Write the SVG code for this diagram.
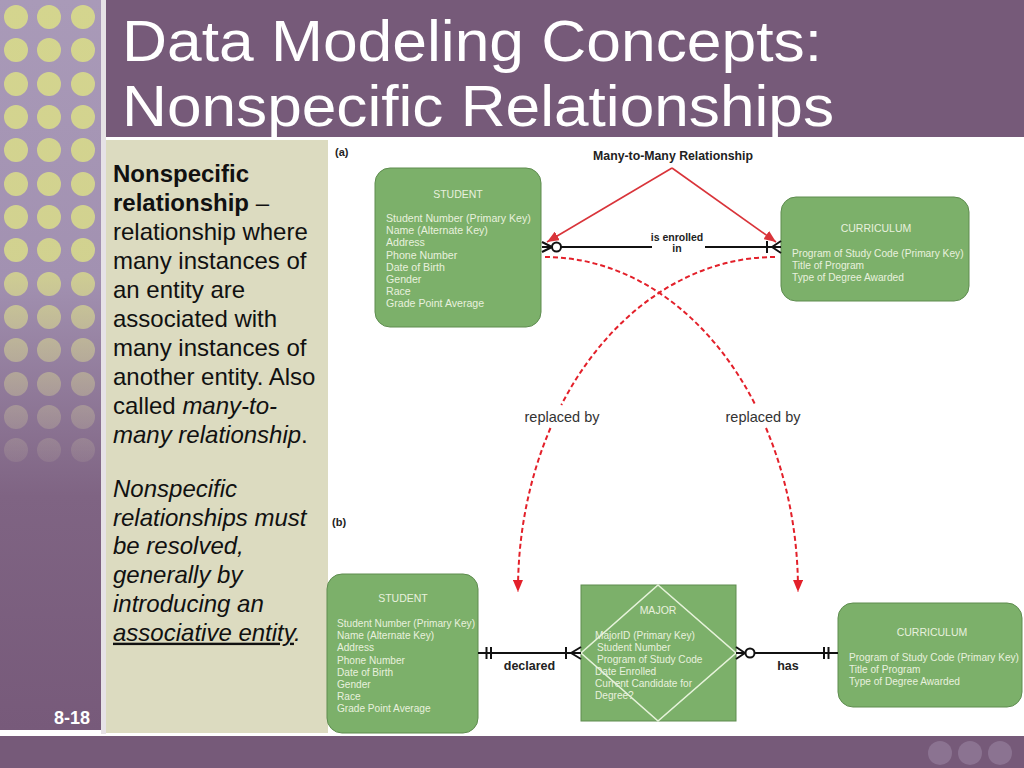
<svg xmlns="http://www.w3.org/2000/svg" width="1024" height="768" viewBox="0 0 1024 768">
<defs>
  <linearGradient id="stripGrad" gradientUnits="userSpaceOnUse" x1="0" y1="0" x2="0" y2="730">
    <stop offset="0" stop-color="#A99AB8"/>
    <stop offset="0.38" stop-color="#A291B1"/>
    <stop offset="0.68" stop-color="#7F6483"/>
    <stop offset="1" stop-color="#775A7A"/>
  </linearGradient>
  <linearGradient id="dotGrad" gradientUnits="userSpaceOnUse" x1="0" y1="0" x2="0" y2="470">
    <stop offset="0" stop-color="#D4D58E" stop-opacity="1"/>
    <stop offset="0.55" stop-color="#D4D58E" stop-opacity="0.95"/>
    <stop offset="0.8" stop-color="#CFCB95" stop-opacity="0.5"/>
    <stop offset="1" stop-color="#C8BDA8" stop-opacity="0.12"/>
  </linearGradient>
  <marker id="redArrow" viewBox="0 0 12 10" refX="12" refY="5" markerWidth="12" markerHeight="10" markerUnits="userSpaceOnUse" orient="auto">
    <path d="M0,0 L12,5 L0,10 z" fill="#D9343A"/>
  </marker>
  <marker id="dashArrow" viewBox="0 0 12 10" refX="12" refY="5" markerWidth="13" markerHeight="10" markerUnits="userSpaceOnUse" orient="auto">
    <path d="M0,0 L12,5 L0,10 z" fill="#E3202A"/>
  </marker>
  <style>
    .box { fill: #7CB06A; stroke: #5E8C4F; stroke-width: 1; }
    .etitle { font-family: "Liberation Sans", Arial, sans-serif; font-size: 10.5px; fill: #E8F0DE; text-anchor: middle; }
    .attr { font-family: "Liberation Sans", Arial, sans-serif; font-size: 10.6px; fill: #E8F0DE; }
    .attrc { font-family: "Liberation Sans", Arial, sans-serif; font-size: 10.2px; fill: #E8F0DE; }
    .attrb { font-family: "Liberation Sans", Arial, sans-serif; font-size: 10.1px; fill: #E8F0DE; }
    .rel { stroke: #111; stroke-width: 2; fill: none; }
    .relfill { stroke: #111; stroke-width: 2; fill: #FFFFFF; }
    .rlabel { font-family: "Liberation Sans", Arial, sans-serif; font-weight: bold; font-size: 12.5px; fill: #222; text-anchor: middle; }
    .redline { stroke: #D9343A; stroke-width: 1.6; fill: none; }
    .dash { stroke: #E3202A; stroke-width: 2; fill: none; stroke-dasharray: 5 3; }
    .repl { font-family: "Liberation Sans", Arial, sans-serif; font-size: 14.5px; fill: #333; text-anchor: middle; }
    .note { font-family: "Liberation Sans", Arial, sans-serif; font-size: 24px; fill: #111; }
    .dot { fill: url(#dotGrad); }
    .ttl { font-family: "Liberation Sans", Arial, sans-serif; font-size: 58px; fill: #FFFFFF; }
  </style>
</defs>

<!-- background -->
<g id="background">
  <rect x="0" y="0" width="1024" height="768" fill="#FFFFFF"/>
  <rect x="0" y="0" width="101" height="730" fill="url(#stripGrad)"/>
  <g id="dots">
    <circle class="dot" cx="16" cy="17" r="12"/><circle class="dot" cx="49" cy="17" r="12"/><circle class="dot" cx="83" cy="17" r="12"/>
    <circle class="dot" cx="16" cy="50" r="12"/><circle class="dot" cx="49" cy="50" r="12"/><circle class="dot" cx="83" cy="50" r="12"/>
    <circle class="dot" cx="16" cy="84" r="12"/><circle class="dot" cx="49" cy="84" r="12"/><circle class="dot" cx="83" cy="84" r="12"/>
    <circle class="dot" cx="16" cy="117" r="12"/><circle class="dot" cx="49" cy="117" r="12"/><circle class="dot" cx="83" cy="117" r="12"/>
    <circle class="dot" cx="16" cy="150" r="12"/><circle class="dot" cx="49" cy="150" r="12"/><circle class="dot" cx="83" cy="150" r="12"/>
    <circle class="dot" cx="16" cy="184" r="12"/><circle class="dot" cx="49" cy="184" r="12"/><circle class="dot" cx="83" cy="184" r="12"/>
    <circle class="dot" cx="16" cy="217" r="12"/><circle class="dot" cx="49" cy="217" r="12"/><circle class="dot" cx="83" cy="217" r="12"/>
    <circle class="dot" cx="16" cy="250" r="12"/><circle class="dot" cx="49" cy="250" r="12"/><circle class="dot" cx="83" cy="250" r="12"/>
    <circle class="dot" cx="16" cy="284" r="12"/><circle class="dot" cx="49" cy="284" r="12"/><circle class="dot" cx="83" cy="284" r="12"/>
    <circle class="dot" cx="16" cy="317" r="12"/><circle class="dot" cx="49" cy="317" r="12"/><circle class="dot" cx="83" cy="317" r="12"/>
    <circle class="dot" cx="16" cy="350" r="12"/><circle class="dot" cx="49" cy="350" r="12"/><circle class="dot" cx="83" cy="350" r="12"/>
    <circle class="dot" cx="16" cy="384" r="12"/><circle class="dot" cx="49" cy="384" r="12"/><circle class="dot" cx="83" cy="384" r="12"/>
    <circle class="dot" cx="16" cy="417" r="12"/><circle class="dot" cx="49" cy="417" r="12"/><circle class="dot" cx="83" cy="417" r="12"/>
    <circle class="dot" cx="16" cy="450" r="12"/><circle class="dot" cx="49" cy="450" r="12"/><circle class="dot" cx="83" cy="450" r="12"/>
  </g>
  <rect x="101" y="0" width="5" height="734" fill="#E6E2E6"/>
  <rect x="106" y="0" width="918" height="137" fill="#765A79"/>
  <rect x="106" y="140" width="222" height="593" fill="#DCDBC0"/>
  <rect x="0" y="736" width="1024" height="32" fill="#765A79"/>
  <circle cx="940" cy="753" r="12" fill="#8B7391"/>
  <circle cx="970" cy="753" r="12" fill="#8B7391"/>
  <circle cx="1000" cy="753" r="12" fill="#8B7391"/>
</g>

<!-- title -->
<g id="title">
  <text class="ttl" x="122" y="61" textLength="700" lengthAdjust="spacingAndGlyphs">Data Modeling Concepts:</text>
  <text class="ttl" x="122" y="126" textLength="712" lengthAdjust="spacingAndGlyphs">Nonspecific Relationships</text>
</g>

<text id="slide-number" x="72" y="724" font-family="'Liberation Sans', Arial, sans-serif" font-weight="bold" font-size="18px" fill="#FFFFFF" text-anchor="middle">8-18</text>

<!-- notes panel -->
<g id="notes">
  <text class="note" x="113" y="181.5" font-weight="bold">Nonspecific</text>
  <text class="note" x="113" y="210.5"><tspan font-weight="bold">relationship</tspan> –</text>
  <text class="note" x="113" y="239.5">relationship where</text>
  <text class="note" x="113" y="268.5">many instances of</text>
  <text class="note" x="113" y="297.5">an entity are</text>
  <text class="note" x="113" y="326.5">associated with</text>
  <text class="note" x="113" y="355.5">many instances of</text>
  <text class="note" x="113" y="384.5">another entity. Also</text>
  <text class="note" x="113" y="413.5">called <tspan font-style="italic">many-to-</tspan></text>
  <text class="note" x="113" y="442.5"><tspan font-style="italic">many relationship</tspan>.</text>
  <g font-style="italic">
    <text class="note" x="113" y="496.7">Nonspecific</text>
    <text class="note" x="113" y="525.5">relationships must</text>
    <text class="note" x="113" y="554.3">be resolved,</text>
    <text class="note" x="113" y="583.1">generally by</text>
    <text class="note" x="113" y="611.9">introducing an</text>
    <text class="note" x="113" y="640.7"><tspan text-decoration="underline">associative entity</tspan>.</text>
  </g>
</g>

<!-- panel labels -->
<text id="label-a" x="335" y="156" font-family="'Liberation Sans', Arial, sans-serif" font-weight="bold" font-size="11px" fill="#222">(a)</text>
<text id="label-b" x="332" y="526" font-family="'Liberation Sans', Arial, sans-serif" font-weight="bold" font-size="11px" fill="#222">(b)</text>

<!-- nodes (a) -->
<g id="student-a">
  <rect class="box" x="375" y="168" width="166" height="159" rx="15"/>
  <text class="etitle" x="458" y="198">STUDENT</text>
  <text class="attr" x="386" y="222">Student Number (Primary Key)</text>
  <text class="attr" x="386" y="234.2">Name (Alternate Key)</text>
  <text class="attr" x="386" y="246.4">Address</text>
  <text class="attr" x="386" y="258.6">Phone Number</text>
  <text class="attr" x="386" y="270.8">Date of Birth</text>
  <text class="attr" x="386" y="283">Gender</text>
  <text class="attr" x="386" y="295.2">Race</text>
  <text class="attr" x="386" y="307.4">Grade Point Average</text>
</g>

<g id="curriculum-a">
  <rect class="box" x="781" y="197" width="188" height="104" rx="15"/>
  <text class="etitle" x="876" y="232">CURRICULUM</text>
  <text class="attrc" x="792" y="257">Program of Study Code (Primary Key)</text>
  <text class="attrc" x="792" y="269">Title of Program</text>
  <text class="attrc" x="792" y="281">Type of Degree Awarded</text>
</g>

<!-- nodes (b) -->
<g id="student-b">
  <rect class="box" x="327" y="574" width="151" height="159" rx="15"/>
  <text class="etitle" x="403" y="602">STUDENT</text>
  <text class="attrb" x="337" y="627">Student Number (Primary Key)</text>
  <text class="attrb" x="337" y="639.2">Name (Alternate Key)</text>
  <text class="attrb" x="337" y="651.4">Address</text>
  <text class="attrb" x="337" y="663.6">Phone Number</text>
  <text class="attrb" x="337" y="675.8">Date of Birth</text>
  <text class="attrb" x="337" y="688">Gender</text>
  <text class="attrb" x="337" y="700.2">Race</text>
  <text class="attrb" x="337" y="712.4">Grade Point Average</text>
</g>

<g id="major">
  <rect class="box" x="581" y="585" width="155" height="136"/>
  <polygon points="658,585 736,653 658,721 581,653" fill="none" stroke="#E6F3DA" stroke-width="1.6"/>
  <text class="etitle" x="658" y="614">MAJOR</text>
  <text class="attrb" x="595" y="639">MajorID (Primary Key)</text>
  <text class="attrb" x="597" y="651">Student Number</text>
  <text class="attrb" x="597" y="662.5">Program of Study Code</text>
  <text class="attrb" x="595" y="675">Date Enrolled</text>
  <text class="attrb" x="595" y="687">Current Candidate for</text>
  <text class="attrb" x="595" y="699">Degree?</text>
</g>

<g id="curriculum-b">
  <rect class="box" x="838" y="603" width="184" height="104" rx="15"/>
  <text class="etitle" x="932" y="636">CURRICULUM</text>
  <text class="attrb" x="849" y="660.5">Program of Study Code (Primary Key)</text>
  <text class="attrb" x="849" y="672.5">Title of Program</text>
  <text class="attrb" x="849" y="684.5">Type of Degree Awarded</text>
</g>

<!-- connectors -->
<g id="connectors">
  <!-- (a) is enrolled in -->
  <g id="rel-enrolled">
    <path class="rel" d="M542,242 L552,247 M542,247 L552,247 M542,252 L552,247"/>
    <circle class="relfill" cx="556.5" cy="247" r="4.5"/>
    <line class="rel" x1="561" y1="247" x2="652" y2="247"/>
    <line class="rel" x1="705" y1="247" x2="781" y2="247"/>
    <line class="rel" x1="767" y1="241" x2="767" y2="253"/>
    <path class="rel" d="M781,241 L772,247 M781,247 L772,247 M781,253 L772,247"/>
    <text x="677" y="240.5" font-family="'Liberation Sans', Arial, sans-serif" font-weight="bold" font-size="10.5px" fill="#222" text-anchor="middle">is enrolled</text>
    <text x="677" y="252" font-family="'Liberation Sans', Arial, sans-serif" font-weight="bold" font-size="10.5px" fill="#222" text-anchor="middle">in</text>
  </g>

  <!-- Many-to-Many callout -->
  <g id="callout">
    <text x="673" y="160" font-family="'Liberation Sans', Arial, sans-serif" font-weight="bold" font-size="12.3px" fill="#222" text-anchor="middle">Many-to-Many Relationship</text>
    <line class="redline" x1="672" y1="168" x2="547" y2="242" marker-end="url(#redArrow)"/>
    <line class="redline" x1="672" y1="168" x2="776" y2="242" marker-end="url(#redArrow)"/>
  </g>

  <!-- replaced by arcs -->
  <g id="replaced">
    <path class="dash" d="M545,257 A253,333 0 0 1 755.4,405 M766,428 A253,333 0 0 1 798,592" marker-end="url(#dashArrow)"/>
    <path class="dash" d="M775,257 A257,333 0 0 0 561.3,405 M550.5,428 A257,333 0 0 0 518,592" marker-end="url(#dashArrow)"/>
    <text class="repl" x="562" y="421.5">replaced by</text>
    <text class="repl" x="763" y="421.5">replaced by</text>
  </g>

  <!-- (b) declared -->
  <g id="rel-declared">
    <line class="rel" x1="478" y1="653" x2="581" y2="653"/>
    <line class="rel" x1="486.5" y1="647" x2="486.5" y2="659"/>
    <line class="rel" x1="491" y1="647" x2="491" y2="659"/>
    <line class="rel" x1="566" y1="647" x2="566" y2="659"/>
    <path class="rel" d="M581,647 L571,653 M581,659 L571,653"/>
    <text class="rlabel" x="529.5" y="669.5">declared</text>
  </g>

  <!-- (b) has -->
  <g id="rel-has">
    <path class="rel" d="M736,647 L745,653 M736,653 L745,653 M736,659 L745,653"/>
    <circle class="relfill" cx="750" cy="653" r="4.5"/>
    <line class="rel" x1="754.5" y1="653" x2="838" y2="653"/>
    <line class="rel" x1="824" y1="647" x2="824" y2="659"/>
    <line class="rel" x1="828.5" y1="647" x2="828.5" y2="659"/>
    <text class="rlabel" x="788" y="670">has</text>
  </g>
</g>
</svg>
